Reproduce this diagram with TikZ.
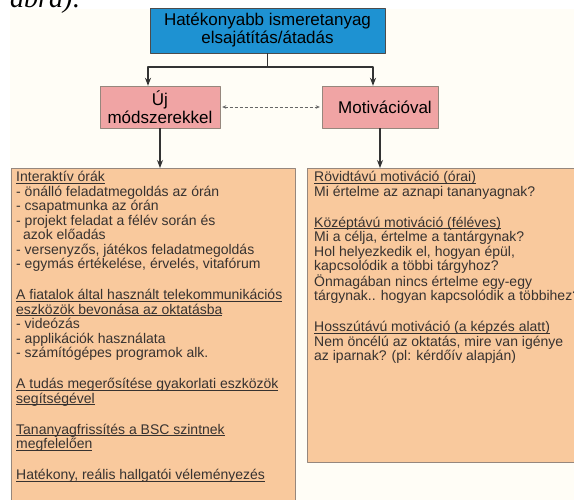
\documentclass[tikz,border=0pt]{standalone}
\usepackage{fontspec}
\setmainfont{Liberation Sans}
\newfontfamily\serifit{Liberation Serif}
\usetikzlibrary{arrows.meta}
\definecolor{kek}{RGB}{30,146,210}
\definecolor{rozsa}{RGB}{240,164,164}
\definecolor{narancs}{RGB}{249,201,157}
\definecolor{keret}{RGB}{150,135,125}
\definecolor{szoveg}{RGB}{55,50,48}
\definecolor{hatter}{RGB}{255,253,246}
\newcommand\alahuz[1]{\underline{\raisebox{0pt}[\height][0pt]{#1}}}
\begin{document}
\begin{tikzpicture}[x=1pt, y=-1pt, line join=round, >={Stealth[length=8pt,width=6pt]},
	cim/.style={draw=black!70, fill=kek, minimum width=235pt, minimum height=45pt, align=center, inner sep=1pt, font=\fontsize{17}{18}\selectfont},
	modszer/.style={draw=keret, fill=rozsa, minimum height=42pt, align=center, inner sep=1pt, font=\fontsize{17}{18}\selectfont},
	doboz/.style={draw=keret, fill=narancs, anchor=north west, inner sep=0pt},
	lista/.style={anchor=north west, align=left, inner sep=0pt, text=szoveg, font=\fontsize{14}{14.5}\selectfont},
	nyil/.style={->, line width=1.1pt, draw=black!80}]
	\def\sor{16.5pt} % üres sor
	\useasboundingbox (0,0) rectangle (574,500);
	\fill[hatter] (10,9) rectangle (574,500);
	\begin{scope}
		\clip (0,0) rectangle (574,500);
		\node[anchor=base west, inner sep=0pt, font=\serifit\itshape\fontsize{28}{28}\selectfont] (abra) at (10,8) {ábra):};
	\end{scope}
	% dobozok
	\node[cim] (cel) at (267.5,30.5) {Hatékonyabb ismeretanyag\\elsajátítás/átadás};
	\node[modszer, minimum width=120pt] (uj) at (160,107) {Új\\módszerekkel};
	\node[modszer, minimum width=116pt] (motiv) at (380,107) {\hspace*{10pt}Motivációval};
	\node[doboz, minimum width=284pt, minimum height=345pt] (bal) at (11,168) {};
	\node[doboz, minimum width=280pt, minimum height=294pt] (jobb) at (307,168) {};
	% nyilak
	\coordinate (balag) at (148,67);
	\coordinate (jobbag) at (373,67);
	\draw[nyil] (cel.south) |- (balag) -- (balag |- uj.north);
	\draw[nyil] (cel.south) |- (jobbag) -- (jobbag |- motiv.north);
	\draw[<->, >={Stealth[length=4pt,width=3.5pt]}, densely dashed, draw=black!60, line width=0.6pt, shorten <=2pt, shorten >=2pt] (uj.east) -- (motiv.west);
	\draw[nyil] (uj.south) -- (uj.south |- bal.north);
	\draw[nyil] (motiv.south) -- (motiv.south |- jobb.north);
	% szovegek
	\node[lista] (baltext) at (16,171) {\alahuz{Interaktív órák}\\
		- önálló feladatmegoldás az órán\\
		- csapatmunka az órán\\
		- projekt feladat a félév során és\\
		\hspace*{7pt}azok előadás\\
		- versenyzős, játékos feladatmegoldás\\
		- egymás értékelése, érvelés, vitafórum\\[\sor]
		\alahuz{A fiatalok által használt telekommunikációs}\\
		\alahuz{eszközök bevonása az oktatásba}\\
		- videózás\\
		- applikációk használata\\
		- számítógépes programok alk.\\[\sor]
		\alahuz{A tudás megerősítése gyakorlati eszközök}\\
		\alahuz{segítségével}\\[\sor]
		\alahuz{Tananyagfrissítés a BSC szintnek}\\
		\alahuz{megfelelően}\\[\sor]
		\alahuz{Hatékony, reális hallgatói véleményezés}};
	\node[lista] (jobbtext) at (314,171) {\alahuz{Rövidtávú motiváció (órai)}\\
		Mi értelme az aznapi tananyagnak?\\[\sor]
		\alahuz{Középtávú motiváció (féléves)}\\
		Mi a célja, értelme a tantárgynak?\\
		Hol helyezkedik el, hogyan épül,\\
		kapcsolódik a többi tárgyhoz?\\
		Önmagában nincs értelme egy-egy\\
		tárgynak.. hogyan kapcsolódik a többihez?\\[\sor]
		\alahuz{Hosszútávú motiváció (a képzés alatt)}\\
		Nem öncélú az oktatás, mire van igénye\\
		az iparnak? (pl: kérdőív alapján)};
\end{tikzpicture}
\end{document}
